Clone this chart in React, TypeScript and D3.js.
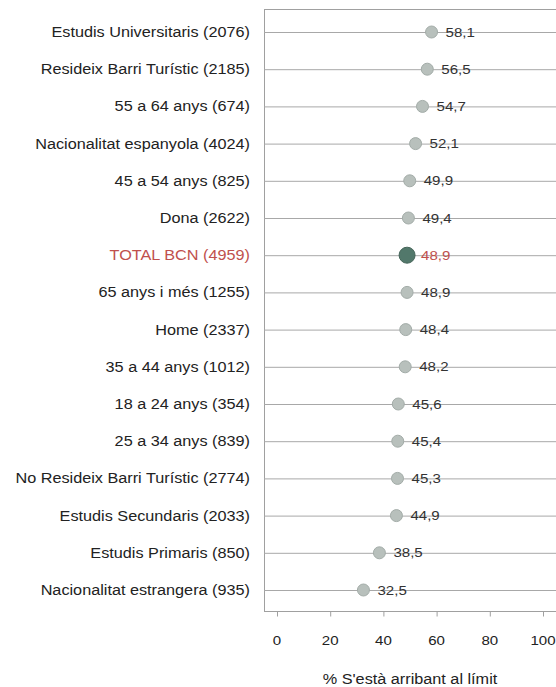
import { useEffect, useRef } from "react";
import * as d3 from "d3";

// Categories (top to bottom) and values
const categories = [
  "Estudis Universitaris (2076)",
  "Resideix Barri Turístic (2185)",
  "55 a 64 anys (674)",
  "Nacionalitat espanyola (4024)",
  "45 a 54 anys (825)",
  "Dona (2622)",
  "TOTAL BCN (4959)",
  "65 anys i més (1255)",
  "Home (2337)",
  "35 a 44 anys (1012)",
  "18 a 24 anys (354)",
  "25 a 34 anys (839)",
  "No Resideix Barri Turístic (2774)",
  "Estudis Secundaris (2033)",
  "Estudis Primaris (850)",
  "Nacionalitat estrangera (935)",
];
const values = [58.1, 56.5, 54.7, 52.1, 49.9, 49.4, 48.9, 48.9, 48.4, 48.2, 45.6, 45.4, 45.3, 44.9, 38.5, 32.5];
const xTicks = [0, 20, 40, 60, 80, 100];
const totalLabel = "TOTAL BCN (4959)";
const axisTitle = "% S'està arribant al límit";

const width = 556;
const height = 687;
const font = "Liberation Sans, Arial, sans-serif";
// le texte de l'original est un peu étiré horizontalement
const stretch = 1.16;

const drawChart = (svgEl: SVGSVGElement) => {
  const svg = d3.select(svgEl);
  svg.selectAll("*").remove();

  const boxLeft = 264;
  const boxRight = 556;
  const boxTop = 9;
  const boxBottom = 611;

  const x = d3.scaleLinear().domain([0, 100]).range([277, 543]);
  const y = d3.scalePoint<string>().domain(categories).range([32, 590]);

  const data = categories.map((c, i) => ({ name: c, value: values[i] }));
  const fmt = (v: number) => v.toFixed(1).replace(".", ",");

  // Cadre
  svg.append("rect")
    .attr("x", boxLeft + 0.5)
    .attr("y", boxTop + 0.5)
    .attr("width", boxRight - boxLeft)
    .attr("height", boxBottom - boxTop)
    .attr("fill", "white")
    .attr("stroke", "#a0a0a0");

  // Lignes horizontales
  svg.append("g")
    .selectAll("line")
    .data(data)
    .join("line")
    .attr("x1", boxLeft)
    .attr("x2", boxRight)
    .attr("y1", d => y(d.name)! + 0.5)
    .attr("y2", d => y(d.name)! + 0.5)
    .attr("stroke", "#a8a8a8")
    .attr("stroke-width", 1);

  // Etiquettes des catégories
  svg.append("g")
    .attr("font-family", font)
    .attr("font-size", 14)
    .attr("text-anchor", "end")
    .selectAll("text")
    .data(data)
    .join("text")
    .attr("transform", d => `translate(250,${y(d.name)!}) scale(${stretch},1)`)
    .attr("dy", "0.36em")
    .attr("fill", d => (d.name === totalLabel ? "#c0504d" : "#222"))
    .text(d => d.name);

  // Points
  svg.append("g")
    .selectAll("circle")
    .data(data)
    .join("circle")
    .attr("cx", d => x(d.value))
    .attr("cy", d => y(d.name)!)
    .attr("r", d => (d.name === totalLabel ? 8 : 6))
    .attr("fill", d => (d.name === totalLabel ? "#52786b" : "#b8c0bc"))
    .attr("stroke", d => (d.name === totalLabel ? "#456559" : "#a3aca8"))
    .attr("stroke-width", 1);

  // Valeurs
  svg.append("g")
    .attr("font-family", font)
    .attr("font-size", 13)
    .selectAll("text")
    .data(data)
    .join("text")
    .attr("transform", d => `translate(${x(d.value) + 14},${y(d.name)!}) scale(${stretch},1)`)
    .attr("dy", "0.36em")
    .attr("fill", d => (d.name === totalLabel ? "#c0504d" : "#333"))
    .text(d => fmt(d.value));

  // Axe X
  const axis = svg.append("g").attr("transform", `translate(0,${boxBottom + 0.5})`);
  axis.selectAll("line")
    .data(xTicks)
    .join("line")
    .attr("x1", d => x(d) + 0.5)
    .attr("x2", d => x(d) + 0.5)
    .attr("y1", 0)
    .attr("y2", 5)
    .attr("stroke", "#a0a0a0");
  axis.selectAll("text")
    .data(xTicks)
    .join("text")
    .attr("transform", d => `translate(${x(d)},33) scale(${stretch},1)`)
    .attr("text-anchor", "middle")
    .attr("font-family", font)
    .attr("font-size", 13)
    .attr("fill", "#222")
    .text(d => d);

  svg.append("text")
    .attr("transform", `translate(410,684) scale(${stretch},1)`)
    .attr("text-anchor", "middle")
    .attr("font-family", font)
    .attr("font-size", 14)
    .attr("fill", "#222")
    .text(axisTitle);
};

export default function App() {
  const ref = useRef<SVGSVGElement>(null);
  useEffect(() => {
    if (ref.current) drawChart(ref.current);
  }, []);
  return (
    <svg
      ref={ref}
      width={width}
      height={height}
      style={{ position: "absolute", left: 0, top: 0, background: "white" }}
    />
  );
}
